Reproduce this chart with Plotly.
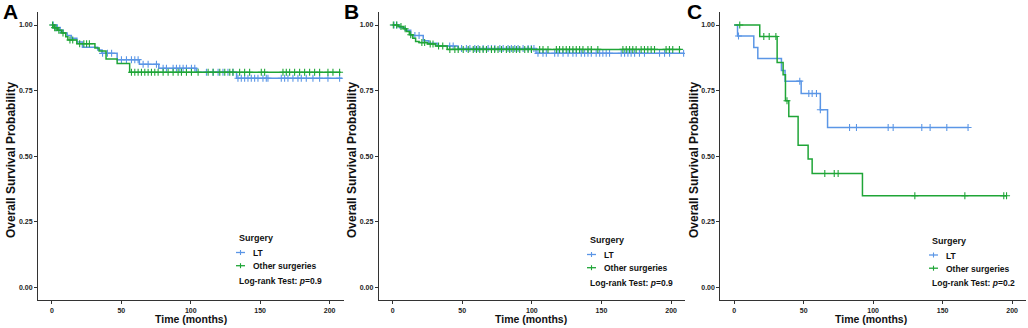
import numpy as np
import plotly.graph_objects as go

# ---------------- data ----------------
# Panel A
A_LT_event_t = [2, 5, 8, 11, 14, 18, 22, 33, 36, 47, 63, 77, 104, 133]
A_LT_event_s = [0.99, 0.98, 0.97, 0.96, 0.95, 0.935, 0.915, 0.905, 0.892, 0.868, 0.85, 0.835, 0.82, 0.797]
A_LT_end = 209
A_LT_censor = [1, 3, 4, 6, 36.5, 40, 43, 50.1, 53.7, 57.3, 59.7, 62.1, 65.7, 69.3, 75.3, 80.1, 82.5,
               87.3, 89.7, 92.1, 94.5, 96.9, 100.5, 102.9, 111.3, 116.1, 119.7, 123.2, 126.8, 130.4,
               134.0, 136.4, 138.8, 141.2, 143.6, 146.0, 148.4, 152.0, 154.4, 155.6, 165.2, 167.6,
               170.0, 173.6, 177.2, 179.6, 183.2, 188.0, 192.8, 198.8, 207.2]

A_OT_event_t = [1.5, 4, 7, 10, 11.5, 18, 31, 34, 39, 47, 56]
A_OT_event_s = [0.99, 0.98, 0.97, 0.955, 0.943, 0.929, 0.912, 0.901, 0.87, 0.853, 0.82]
A_OT_end = 208
A_OT_censor = [0.5, 2, 3, 5, 8, 13, 15, 20, 23, 25, 27, 57.3, 59.7, 62.1, 64.5, 66.9, 69.3, 71.7, 74.1,
               76.5, 80.1, 83.7, 87.3, 90.9, 93.3, 96.9, 100.5, 105.3, 112.5, 116.1, 120.9, 124.5,
               128.1, 130.4, 135.2, 138.8, 142.4, 150.8, 153.2, 166.4, 168.8, 171.2, 174.8, 178.4,
               182.0, 185.6, 189.2, 192.8, 198.8, 202.4, 207.2]

# Panel B
B_LT_event_t = [5, 9, 13, 22, 26, 32, 47, 103]
B_LT_event_s = [0.99, 0.98, 0.96, 0.94, 0.93, 0.92, 0.91, 0.892]
B_LT_end = 209
B_LT_censor = [1, 3, 16, 19, 41, 43.5, 49.5, 53.0, 55.5, 59.0, 61.4, 65.0, 68.6, 71.0, 73.4, 77.0, 79.4,
               82.9, 85.3, 87.7, 90.1, 93.7, 97.3, 99.6, 101.5, 104.4, 108.0, 110.4, 116.4, 118.8,
               122.4, 126.0, 129.5, 131.9, 135.5, 137.9, 140.3, 142.7, 146.2, 148.7, 151.0, 153.4,
               155.8, 164.2, 166.6, 169.0, 171.3, 173.8, 177.3, 180.9, 191.7, 195.3, 198.9, 209]

B_OT_event_t = [4, 7.7, 10, 12, 14.5, 16.5, 19, 25, 30.8, 39.2]
B_OT_event_s = [0.994, 0.986, 0.975, 0.963, 0.95, 0.937, 0.933, 0.928, 0.92, 0.907]
B_OT_end = 207
B_OT_censor = [0.5, 2.9, 6, 9, 13, 21, 23, 27, 29, 33, 36, 41.1, 44.7, 47.1, 50.7, 54.3, 57.9, 60.2,
               62.6, 65.0, 67.4, 71.0, 73.3, 75.7, 78.2, 81.7, 84.1, 86.5, 88.9, 91.3, 94.9, 97.3,
               99.7, 105.6, 108.0, 111.6, 117.6, 119.9, 122.3, 124.7, 127.1, 129.5, 131.9, 134.3,
               136.7, 140.3, 142.7, 147.4, 165.4, 167.8, 170.2, 172.5, 174.9, 178.5, 180.9, 183.3,
               185.7, 188.1, 196.4, 198.8, 201.2, 206.0]

# Panel C
C_LT_event_t = [2.4, 14.1, 17, 34, 36.6, 48.2, 62, 67.2]
C_LT_event_s = [0.958, 0.914, 0.872, 0.827, 0.786, 0.739, 0.677, 0.609]
C_LT_end = 168.3
C_LT_censor = [3.1, 47.2, 53.7, 56.1, 59.2, 62, 83, 88, 110.8, 114.4, 135, 141, 153, 168.3]

C_OT_event_t = [18.4, 30.9, 35.2, 36.9, 39.3, 46, 53.2, 56.1, 92.3]
C_OT_event_s = [0.956, 0.857, 0.81, 0.711, 0.651, 0.542, 0.489, 0.434, 0.349]
C_OT_end = 196
C_OT_censor = [4, 21.3, 25.2, 30.0, 38, 65.2, 72, 74.8, 130, 166, 194, 196]

panel_letters = ["A", "B", "C"]
pvalues = ["0.9", "0.9", "0.2"]
group_names = ["LT", "Other surgeries"]
legend_title = "Surgery"
x_ticks = [0, 50, 100, 150, 200]
y_ticks = [0, 0.25, 0.5, 0.75, 1.0]
y_ticktext = ["0.00", "0.25", "0.50", "0.75", "1.00"]

# ---------------- styling ----------------
W, H = 1028, 328
BLUE = "#5B96E6"
GREEN = "#1FA537"
AX = "#333333"
FONT = "Liberation Sans"

panels = [
    dict(lt=(A_LT_event_t, A_LT_event_s, A_LT_end, A_LT_censor),
         ot=(A_OT_event_t, A_OT_event_s, A_OT_end, A_OT_censor),
         xdom=(38, 343.5), letter_x=1, ytitle_x=11, xtitle_x=190.5,
         leg=(236.5, 238)),
    dict(lt=(B_LT_event_t, B_LT_event_s, B_LT_end, B_LT_censor),
         ot=(B_OT_event_t, B_OT_event_s, B_OT_end, B_OT_censor),
         xdom=(378.7, 685), letter_x=342, ytitle_x=352, xtitle_x=531,
         leg=(587.5, 240)),
    dict(lt=(C_LT_event_t, C_LT_event_s, C_LT_end, C_LT_censor),
         ot=(C_OT_event_t, C_OT_event_s, C_OT_end, C_OT_censor),
         xdom=(720.3, 1026), letter_x=685, ytitle_x=694, xtitle_x=871,
         leg=(929.5, 240.5)),
]

Y_TOP, Y_BOT = 11.9, 300.4


def px(x):
    return x / W


def py(y):
    return 1 - y / H


def step_value(times, survs, t):
    idx = np.searchsorted(np.asarray(times), t, side="right") - 1
    return 1.0 if idx < 0 else survs[idx]


fig = go.Figure()
annotations = []
shapes = []

for i, p in enumerate(panels):
    xa = "x" if i == 0 else f"x{i+1}"
    ya = "y" if i == 0 else f"y{i+1}"
    for (times, survs, end, cens), color in ((p["lt"], BLUE), (p["ot"], GREEN)):
        xs = [0] + list(times) + [end]
        ys = [1.0] + list(survs) + [survs[-1]]
        fig.add_trace(go.Scatter(x=xs, y=ys, mode="lines", xaxis=xa, yaxis=ya,
                                 line=dict(shape="hv", color=color, width=1.5),
                                 showlegend=False, hoverinfo="skip"))
        cy = [step_value(times, survs, t) for t in cens]
        fig.add_trace(go.Scatter(x=cens, y=cy, mode="markers", xaxis=xa, yaxis=ya,
                                 marker=dict(symbol="cross-thin", size=5, color=color,
                                             line=dict(color=color, width=1.1)),
                                 showlegend=False, hoverinfo="skip"))

    axis_common = dict(showgrid=False, zeroline=False, showline=True, linecolor=AX, linewidth=1,
                       ticks="outside", ticklen=3, tickcolor=AX, tickwidth=1,
                       tickfont=dict(family=FONT, size=7, color="#222", weight="bold"))
    xkey = "xaxis" if i == 0 else f"xaxis{i+1}"
    ykey = "yaxis" if i == 0 else f"yaxis{i+1}"
    fig.update_layout(**{
        xkey: dict(domain=[px(p["xdom"][0]), px(p["xdom"][1])], range=[-10, 210],
                   tickvals=x_ticks, anchor=ya, **axis_common),
        ykey: dict(domain=[py(Y_BOT), py(Y_TOP)], range=[-0.05, 1.05],
                   tickvals=y_ticks, ticktext=y_ticktext, anchor=xa, **axis_common),
    })

    # panel letter
    annotations.append(dict(text=panel_letters[i], x=px(p["letter_x"]), y=py(11.5), xref="paper",
                            yref="paper", xanchor="left", yanchor="middle", showarrow=False,
                            font=dict(family=FONT, size=21, color="#000", weight="bold")))
    # axis titles
    annotations.append(dict(text="Overall Survival Probability", x=px(p["ytitle_x"]),
                            y=py(160), xref="paper", yref="paper", textangle=-90,
                            xanchor="center", yanchor="middle", showarrow=False,
                            font=dict(family=FONT, size=12, color="#111", weight="bold")))
    annotations.append(dict(text="Time (months)", x=px(p["xtitle_x"]), y=py(319),
                            xref="paper", yref="paper", xanchor="center", yanchor="middle",
                            showarrow=False,
                            font=dict(family=FONT, size=10.5, color="#111", weight="bold")))
    # legend
    lx, ly = p["leg"]
    annotations.append(dict(text=legend_title, x=px(lx), y=py(ly), xref="paper", yref="paper",
                            xanchor="left", yanchor="middle", showarrow=False,
                            font=dict(family=FONT, size=9, color="#111", weight="bold")))
    for k, (name, color) in enumerate(zip(group_names, (BLUE, GREEN))):
        yy = ly + 14.5 + k * 13.2
        shapes.append(dict(type="line", xref="paper", yref="paper",
                           x0=px(lx - 0.5), x1=px(lx + 8.5), y0=py(yy), y1=py(yy),
                           line=dict(color=color, width=1.3)))
        shapes.append(dict(type="line", xref="paper", yref="paper",
                           x0=px(lx + 4), x1=px(lx + 4), y0=py(yy - 2.5), y1=py(yy + 2.5),
                           line=dict(color=color, width=1.1)))
        annotations.append(dict(text=name, x=px(lx + 14), y=py(yy + 0.5), xref="paper",
                                yref="paper", xanchor="left", yanchor="middle", showarrow=False,
                                font=dict(family=FONT, size=8.5, color="#111", weight="bold")))
    annotations.append(dict(text=f"Log-rank Test: <i>p</i>={pvalues[i]}", x=px(lx),
                            y=py(ly + 42.5), xref="paper", yref="paper", xanchor="left",
                            yanchor="middle", showarrow=False,
                            font=dict(family=FONT, size=8.5, color="#111", weight="bold")))

fig.update_layout(width=W, height=H, margin=dict(l=0, r=0, t=0, b=0),
                  paper_bgcolor="white", plot_bgcolor="white",
                  annotations=annotations, shapes=shapes, showlegend=False)

fig.write_html("out.html", config={"displayModeBar": False, "staticPlot": True},
               post_script="document.body.style.margin='0';document.body.style.padding='0';"
                           "document.body.style.overflow='hidden';")
